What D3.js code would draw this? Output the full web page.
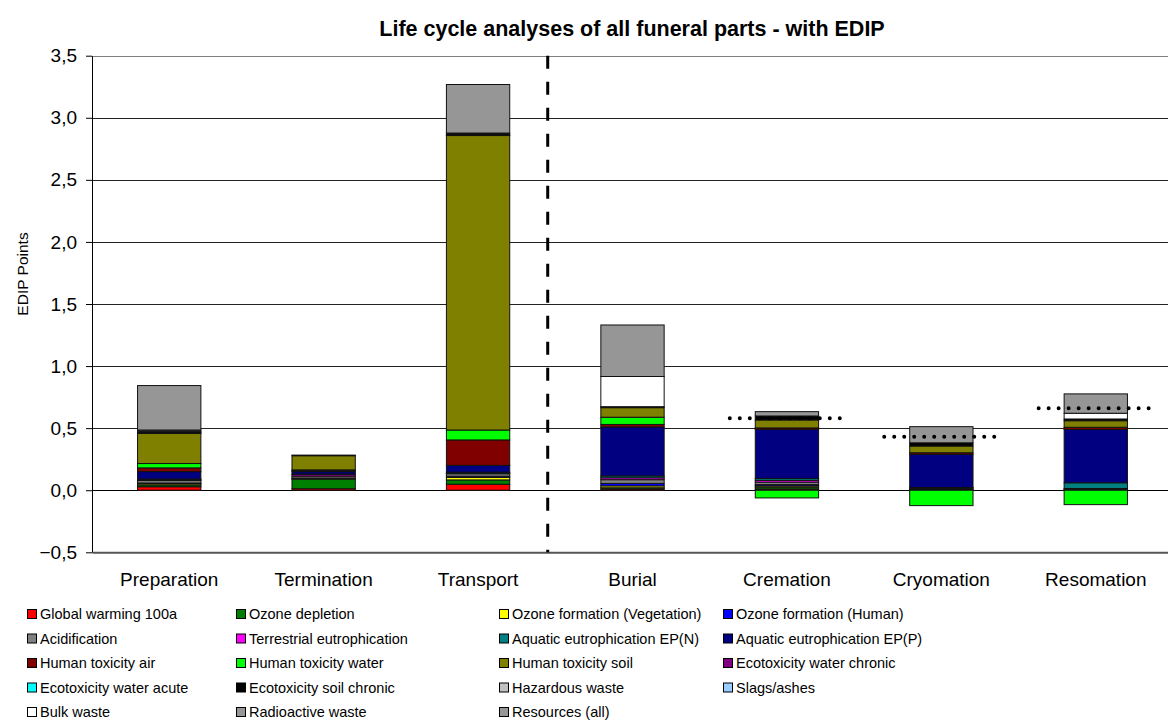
<!DOCTYPE html>
<html>
<head>
<meta charset="utf-8">
<script src="https://cdn.jsdelivr.net/npm/d3@7"></script>
<style>
  html, body { margin: 0; padding: 0; background: #fff; }
  svg { display: block; font-family: "Liberation Sans", Arial, sans-serif; }
</style>
</head>
<body>
<svg id="chart" width="1168" height="720"></svg>
<script>
// Funeral phases along the category axis
const categories = ["Preparation", "Termination", "Transport", "Burial", "Cremation", "Cryomation", "Resomation"];

// Impact categories, in stacking order
const seriesNames = [
  "Global warming 100a", "Ozone depletion", "Ozone formation (Vegetation)", "Ozone formation (Human)",
  "Acidification", "Terrestrial eutrophication", "Aquatic eutrophication EP(N)", "Aquatic eutrophication EP(P)",
  "Human toxicity air", "Human toxicity water", "Human toxicity soil", "Ecotoxicity water chronic",
  "Ecotoxicity water acute", "Ecotoxicity soil chronic", "Hazardous waste", "Slags/ashes",
  "Bulk waste", "Radioactive waste", "Resources (all)"
];

const seriesColors = [
  "#FF0000", "#008000", "#FFFF00", "#0000FF",
  "#808080", "#FF00FF", "#008080", "#000080",
  "#800000", "#00FF00", "#808000", "#800080",
  "#00FFFF", "#000000", "#C0C0C0", "#99CCFF",
  "#FFFFFF", "#969696", "#969696"
];

// EDIP points per phase (Preparation, Termination, Transport, Burial, Cremation, Cryomation, Resomation)
const globalWarming      = [0.028, 0.012, 0.048, 0.010, 0.010, 0.005, 0.005];
const ozoneDepletion     = [0.015, 0.078, 0.035, 0.010, 0.015, 0.005, 0.004];
const ozoneFormVeg       = [0.010, 0.003, 0.020, 0.015, 0.010, 0.000, 0.000];
const ozoneFormHuman     = [0.005, 0.005, 0.010, 0.020, 0.010, 0.000, 0.000];
const acidification      = [0.020, 0.015, 0.020, 0.030, 0.020, 0.007, 0.005];
const terrestrialEutro   = [0.005, 0.012, 0.005, 0.015, 0.015, 0.000, 0.000];
const aquaticEutroN      = [0.007, 0.005, 0.007, 0.015, 0.015, 0.005, 0.046];
const aquaticEutroP      = [0.060, 0.020, 0.055, 0.395, 0.395, 0.267, 0.430];
const humanToxAir        = [0.030, 0.010, 0.205, 0.020, 0.012, 0.013, 0.017];
const humanToxWater      = [0.035, 0.004, 0.080, 0.058, -0.062, -0.124, -0.116];
const humanToxSoil       = [0.243, 0.114, 2.372, 0.077, 0.064, 0.054, 0.053];
const ecotoxWaterChronic = [0.005, 0.000, 0.005, 0.000, 0.000, 0.000, 0.000];
const ecotoxWaterAcute   = [0.000, 0.000, 0.000, 0.000, 0.000, 0.000, 0.000];
const ecotoxSoilChronic  = [0.012, 0.005, 0.015, 0.008, 0.032, 0.026, 0.014];
const hazardousWaste     = [0.000, 0.000, 0.000, 0.000, 0.000, 0.000, 0.000];
const slagsAshes         = [0.000, 0.000, 0.000, 0.000, 0.000, 0.000, 0.000];
const bulkWaste          = [0.000, 0.000, 0.000, 0.243, 0.000, 0.000, 0.046];
const radioactiveWaste   = [0.010, 0.000, 0.000, 0.000, 0.000, 0.000, 0.000];
const resourcesAll       = [0.358, 0.000, 0.391, 0.415, 0.035, 0.130, 0.156];

const seriesValues = [
  globalWarming, ozoneDepletion, ozoneFormVeg, ozoneFormHuman,
  acidification, terrestrialEutro, aquaticEutroN, aquaticEutroP,
  humanToxAir, humanToxWater, humanToxSoil, ecotoxWaterChronic,
  ecotoxWaterAcute, ecotoxSoilChronic, hazardousWaste, slagsAshes,
  bulkWaste, radioactiveWaste, resourcesAll
];

// Net level of each disposal method (dotted markers)
const netLevels = [null, null, null, null, 0.58, 0.43, 0.66];

const yTicks = [-0.5, 0, 0.5, 1, 1.5, 2, 2.5, 3, 3.5];

// ---- build stack table ----
const table = categories.map((c, i) => {
  const row = { category: c };
  seriesNames.forEach((s, k) => { row[s] = seriesValues[k][i]; });
  return row;
});
const stacked = d3.stack()
  .keys(seriesNames)
  .order(d3.stackOrderNone)
  .offset(d3.stackOffsetDiverging)(table);

// ---- scales ----
const svg = d3.select("#chart");
const plotLeft = 92, plotRight = 1173, plotTop = 55.7, plotBottom = 552.3;
const FONT = "'Liberation Sans', Arial, sans-serif";

const x = d3.scaleBand().domain(categories).range([plotLeft, plotRight]).paddingInner(0).paddingOuter(0);
const y = d3.scaleLinear().domain([-0.5, 3.5]).range([plotBottom, plotTop]);
const barW = x.bandwidth() * 0.41;
const fmt = v => d3.format(".1f")(v).replace(".", ",");

svg.append("rect").attr("width", 1168).attr("height", 720).attr("fill", "#fff");

// gridlines
svg.append("g").selectAll("line").data(yTicks.filter(t => t > -0.5)).join("line")
  .attr("x1", plotLeft).attr("x2", plotRight)
  .attr("y1", d => Math.round(y(d)) + 0.5).attr("y2", d => Math.round(y(d)) + 0.5)
  .attr("stroke", d => d === 3.5 ? "#808080" : (d === 0 ? "#000" : "#222"))
  .attr("stroke-width", 1);

// y axis
const yAxis = svg.append("g")
  .attr("transform", `translate(${plotLeft},0)`)
  .call(d3.axisLeft(y).tickValues(yTicks).tickFormat(fmt).tickSize(6).tickSizeOuter(0));
yAxis.select(".domain").attr("stroke", "#000");
yAxis.selectAll(".tick line").attr("stroke", "#000");
yAxis.selectAll(".tick text")
  .attr("x", -15).attr("fill", "#000")
  .style("font-size", "19px").style("font-family", FONT);

// bars
const layers = svg.append("g").selectAll("g").data(stacked).join("g")
  .attr("fill", (d, i) => seriesColors[i]);
layers.selectAll("rect").data(d => d.filter(p => p[1] - p[0] !== 0)).join("rect")
  .attr("x", d => x(d.data.category) + (x.bandwidth() - barW) / 2)
  .attr("width", barW)
  .attr("y", d => y(Math.max(d[0], d[1])))
  .attr("height", d => Math.abs(y(d[0]) - y(d[1])))
  .attr("stroke", "#111")
  .attr("stroke-width", 1);

// category axis at the bottom
const xAxis = svg.append("g")
  .attr("transform", `translate(0,${plotBottom})`)
  .call(d3.axisBottom(x).tickSize(0).tickSizeOuter(0));
xAxis.select(".domain").attr("stroke", "#555").attr("stroke-width", 2);
xAxis.selectAll(".tick text")
  .attr("y", 0).attr("dy", "1.75em").attr("fill", "#000")
  .style("font-size", "19px").style("font-family", FONT);

// divider between preparation steps and disposal methods
const dividerX = x("Transport") + x.bandwidth() * 0.951;
svg.append("line")
  .attr("x1", dividerX).attr("x2", dividerX)
  .attr("y1", plotTop).attr("y2", plotBottom)
  .attr("stroke", "#000").attr("stroke-width", 3)
  .attr("stroke-dasharray", "13,13");

// dotted net-level markers
svg.append("g").selectAll("line")
  .data(categories.map((c, i) => ({ c, v: netLevels[i] })).filter(d => d.v !== null))
  .join("line")
  .attr("x1", d => x(d.c) + x.bandwidth() / 2 - x.bandwidth() * 0.37)
  .attr("x2", d => x(d.c) + x.bandwidth() / 2 + x.bandwidth() * 0.35)
  .attr("y1", d => y(d.v)).attr("y2", d => y(d.v))
  .attr("stroke", "#000").attr("stroke-width", 4)
  .attr("stroke-linecap", "round")
  .attr("stroke-dasharray", "0,10");

// title
svg.append("text")
  .attr("x", 632).attr("y", 36)
  .attr("text-anchor", "middle")
  .style("font-size", "21.5px").style("font-weight", "bold")
  .text("Life cycle analyses of all funeral parts - with EDIP");

// y axis title
svg.append("text")
  .attr("transform", "translate(28,274) rotate(-90)")
  .attr("text-anchor", "middle")
  .style("font-size", "15.5px")
  .text("EDIP Points");

// legend (4 columns, row-major)
const colX = [27, 236, 499, 723];
const rowY = [614, 638.5, 663, 687.5, 712];
const legend = svg.append("g").selectAll("g").data(seriesNames).join("g")
  .attr("transform", (d, i) => `translate(${colX[i % 4]},${rowY[Math.floor(i / 4)]})`);
legend.append("rect")
  .attr("x", 0.5).attr("y", -4.5).attr("width", 9).attr("height", 9)
  .attr("fill", (d, i) => seriesColors[i])
  .attr("stroke", "#000").attr("stroke-width", 1);
legend.append("text")
  .attr("x", 13).attr("y", 0).attr("dy", "0.35em")
  .style("font-size", "14.5px")
  .text(d => d);
</script>
</body>
</html>
